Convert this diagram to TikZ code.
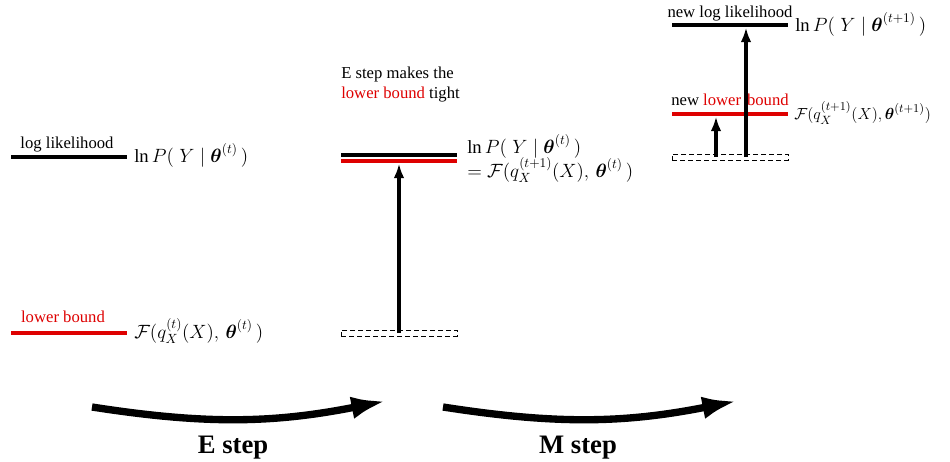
\documentclass[tikz,border=0pt]{standalone}
\usepackage{amsmath,amssymb}
\usepackage{fontspec}
\setmainfont{Liberation Serif}
\usepackage{xcolor}
\usepackage{tikz}
\usetikzlibrary{arrows.meta}
\usetikzlibrary{positioning}

\definecolor{boundred}{RGB}{222,0,0}

\begin{document}
\begin{tikzpicture}[
    x=0.75pt, y=-0.75pt,
    every node/.style={font=\fontsize{12.5}{15}\selectfont},
    bar/.style={rectangle, draw=none, minimum width=87pt, minimum height=3.4pt, inner sep=0pt},
    logbar/.style={bar, fill=black},
    lowbar/.style={bar, fill=boundred},
    oldbar/.style={rectangle, draw, dash pattern=on 4pt off 2pt, line width=0.6pt,
                   minimum width=87pt, minimum height=4.5pt, inner sep=0pt},
    formula/.style={anchor=base west, inner sep=0pt, font=\fontsize{14}{17}\selectfont},
    barlabel/.style={anchor=base, inner sep=0pt},
    rise/.style={-{Latex[length=11pt,width=8pt]}, line width=2.8pt},
    stepflow/.style={-{Latex[length=26pt,width=17pt]}, line width=5.5pt},
    steplabel/.style={anchor=base, font=\fontsize{20}{24}\selectfont\bfseries}
  ]
  \useasboundingbox (0,0) rectangle (950,461);

  % Before the E step
  \node[logbar] (ll) at (69,157) {};
  \node[lowbar] (lb) at (69,333) {};
  \node[barlabel] (lltext) at (67,148) {log likelihood};
  \node[barlabel, text=boundred] (lbtext) at (63,322) {lower bound};
  \node[formula] (llf) at (134,162) {$\ln P(\;Y\;|\;\boldsymbol{\theta}^{(t)}\,)$};
  \node[formula] (lbf) at (134,338) {$\mathcal{F}(q_X^{(t)}(X),\,\boldsymbol{\theta}^{(t)}\,)$};

  % After the E step
  \node[logbar] (ell) at (399,155) {};
  \node[lowbar] (elb) at (399,161) {};
  \node[oldbar] (edash) at (399,333) {};
  \node[anchor=base west, inner sep=0pt, align=left] (etext) at (341,98)
    {E step makes the\\ \textcolor{boundred}{lower bound} tight};
  \node[formula] (ellf) at (467,153) {$\ln P(\;Y\;|\;\boldsymbol{\theta}^{(t)}\,)$};
  \node[formula] (elbf) at (467,177) {$=\mathcal{F}(q_X^{(t+1)}(X),\,\boldsymbol{\theta}^{(t)}\,)$};
  \draw[rise] (edash.center) -- (elb.south);

  % After the M step
  \node[logbar] (mll) at (730,25) {};
  \node[lowbar] (mlb) at (730,114) {};
  \node[oldbar] (mdash) at (730,157) {};
  \node[barlabel] (mlltext) at (730,17) {new log likelihood};
  \node[barlabel] (mlbtext) at (730,105)
    {new \textcolor{boundred}{lower}\hspace{0.35em}\textcolor{boundred}{bound}};
  \node[formula] (mllf) at (795,31) {$\ln P(\;Y\;|\;\boldsymbol{\theta}^{(t+1)}\,)$};
  \node[formula, font=\fontsize{13}{16}\selectfont] (mlbf) at (794,119)
    {$\mathcal{F}(q_X^{(t+1)}(X),\boldsymbol{\theta}^{(t+1)})$};
  \coordinate (mfoot1) at (716,157);
  \coordinate (mfoot2) at (746,157);
  \draw[rise] (mfoot1) -- (mfoot1 |- mlb.south);
  \draw[rise] (mfoot2) -- (mfoot2 |- mll.south);

  % Steps
  \coordinate (estart) at (92,407);
  \coordinate (eend) at (386,401);
  \coordinate (mstart) at (443,407);
  \coordinate (mend) at (737,401);
  \draw[stepflow] (estart) to[bend right=10] (eend);
  \draw[stepflow] (mstart) to[bend right=10] (mend);
  \node[steplabel] (estep) at (233,453) {E step};
  \node[steplabel] (mstep) at (578,453) {M step};

\end{tikzpicture}
\end{document}
